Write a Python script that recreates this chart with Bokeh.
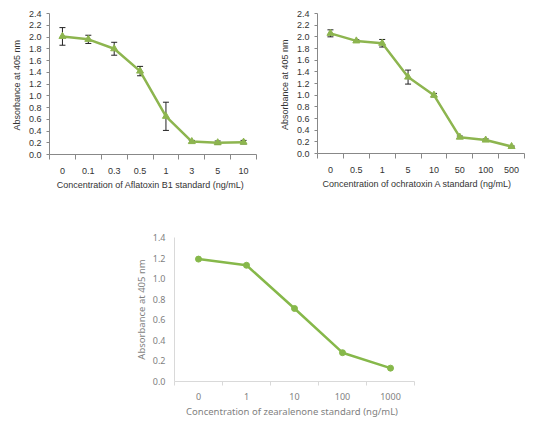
from bokeh.plotting import figure
from bokeh.models import Range1d, FixedTicker, Whisker, ColumnDataSource
from bokeh.layouts import column, row
from bokeh.embed import file_html
from bokeh.resources import INLINE

afb_cats = ["0", "0.1", "0.3", "0.5", "1", "3", "5", "10"]
afb_vals = [2.01, 1.96, 1.80, 1.42, 0.65, 0.22, 0.20, 0.21]
afb_err = [0.15, 0.07, 0.11, 0.08, 0.24, 0.02, 0.03, 0.03]

ota_cats = ["0", "0.5", "1", "5", "10", "50", "100", "500"]
ota_vals = [2.06, 1.93, 1.89, 1.31, 1.00, 0.28, 0.23, 0.12]
ota_err = [0.06, 0.02, 0.065, 0.12, 0.03, 0.02, 0.02, 0.01]

zea_cats = ["0", "1", "10", "100", "1000"]
zea_vals = [1.19, 1.13, 0.71, 0.28, 0.13]

y_ticks_top = [0.0, 0.2, 0.4, 0.6, 0.8, 1.0, 1.2, 1.4, 1.6, 1.8, 2.0, 2.2, 2.4]
y_ticks_bot = [0.0, 0.2, 0.4, 0.6, 0.8, 1.0, 1.2, 1.4]

GREEN = "#8db54f"
FONT_TOP = "Liberation Sans"
FONT_BOT = "Noto Sans"


def make_top(cats, vals, errs, xlabel, left, right, top, fh):
    n = len(cats)
    xs = [i + 0.5 for i in range(n)]
    src = ColumnDataSource(dict(x=xs, y=vals, lo=[v - e for v, e in zip(vals, errs)],
                                hi=[v + e for v, e in zip(vals, errs)]))
    p = figure(frame_width=207, frame_height=fh, output_backend="svg",
               toolbar_location=None,
               x_range=Range1d(0, n), y_range=Range1d(0, 2.4),
               min_border_left=left, min_border_right=right, min_border_top=top,
               min_border_bottom=44)
    p.outline_line_color = None
    p.grid.visible = False
    p.line("x", "y", source=src, line_color=GREEN, line_width=2.5)
    p.scatter("x", "y", source=src, marker="triangle", size=7, fill_color=GREEN,
              line_color=GREEN)
    w = Whisker(base="x", lower="lo", upper="hi", source=src, line_color="#222222",
                line_width=1)
    w.upper_head.size = 6
    w.lower_head.size = 6
    w.upper_head.line_color = "#222222"
    w.lower_head.line_color = "#222222"
    p.add_layout(w)

    p.xaxis.ticker = FixedTicker(ticks=xs, minor_ticks=list(range(n + 1)))
    p.xaxis.major_label_overrides = {x: c for x, c in zip(xs, cats)}
    p.xaxis.major_tick_out = 0
    p.xaxis.major_tick_in = 0
    p.xaxis.minor_tick_out = 5
    p.xaxis.minor_tick_in = 0
    p.xaxis.major_label_standoff = 8
    p.xaxis.axis_label = xlabel
    p.xaxis.axis_label_standoff = 3

    p.yaxis.ticker = FixedTicker(ticks=y_ticks_top)
    p.yaxis.major_label_overrides = {t: "%.1f" % t for t in y_ticks_top}
    p.yaxis.major_tick_out = 3
    p.yaxis.major_tick_in = 0
    p.yaxis.minor_tick_out = 0
    p.yaxis.major_label_standoff = 5
    p.yaxis.axis_label = "Absorbance  at 405 nm"
    p.yaxis.axis_label_standoff = 4

    for ax in (p.xaxis, p.yaxis):
        ax.axis_line_color = "#888888"
        ax.major_tick_line_color = "#888888"
        ax.minor_tick_line_color = "#888888"
        ax.major_label_text_font = FONT_TOP
        ax.major_label_text_font_size = "9px"
        ax.major_label_text_color = "#333333"
        ax.axis_label_text_font = FONT_TOP
        ax.axis_label_text_font_size = "9px"
        ax.axis_label_text_font_style = "normal"
        ax.axis_label_text_color = "#333333"
    return p


p1 = make_top(afb_cats, afb_vals, afb_err,
              "Concentration  of Aflatoxin B1 standard  (ng/mL)", 49, 6, 12, 141)
p2 = make_top(ota_cats, ota_vals, ota_err,
              "Concentration  of ochratoxin  A standard  (ng/mL)", 55, 4, 13, 140)

n3 = len(zea_cats)
xs3 = [i + 0.5 for i in range(n3)]
src3 = ColumnDataSource(dict(x=xs3, y=zea_vals))
p3 = figure(frame_width=240, frame_height=144, output_backend="svg",
            toolbar_location=None,
            x_range=Range1d(0, n3), y_range=Range1d(0, 1.4),
            min_border_left=174, min_border_right=10, min_border_top=40,
            min_border_bottom=36)
p3.outline_line_color = None
p3.grid.visible = False
p3.line("x", "y", source=src3, line_color="#86b84a", line_width=2.5)
p3.scatter("x", "y", source=src3, marker="circle", size=6, fill_color="#86b84a",
           line_color="#86b84a")
p3.xaxis.ticker = FixedTicker(ticks=xs3, minor_ticks=list(range(n3 + 1)))
p3.xaxis.major_label_overrides = {x: c for x, c in zip(xs3, zea_cats)}
p3.xaxis.major_tick_out = 0
p3.xaxis.major_tick_in = 0
p3.xaxis.minor_tick_out = 4
p3.xaxis.minor_tick_in = 0
p3.xaxis.major_label_standoff = 7
p3.xaxis.axis_label = "Concentration  of zearalenone standard  (ng/mL)"
p3.xaxis.axis_label_standoff = 2
p3.yaxis.ticker = FixedTicker(ticks=y_ticks_bot)
p3.yaxis.major_label_overrides = {t: "%.1f" % t for t in y_ticks_bot}
p3.yaxis.major_tick_out = 0
p3.yaxis.major_tick_in = 0
p3.yaxis.minor_tick_out = 0
p3.yaxis.major_label_standoff = 9
p3.yaxis.axis_label = "Absorbance at 405 nm"
p3.yaxis.axis_label_standoff = 2
for ax in (p3.xaxis, p3.yaxis):
    ax.axis_line_color = "#d9d9d9"
    ax.minor_tick_line_color = "#d9d9d9"
    ax.major_label_text_font = FONT_BOT
    ax.major_label_text_font_size = "9px"
    ax.major_label_text_color = "#7f7f7f"
    ax.axis_label_text_font = FONT_BOT
    ax.axis_label_text_font_size = "9.5px"
    ax.axis_label_text_font_style = "normal"
    ax.axis_label_text_color = "#7f7f7f"

layout = column(row(p1, p2), p3)
open("out.html", "w").write(file_html(layout, INLINE))
